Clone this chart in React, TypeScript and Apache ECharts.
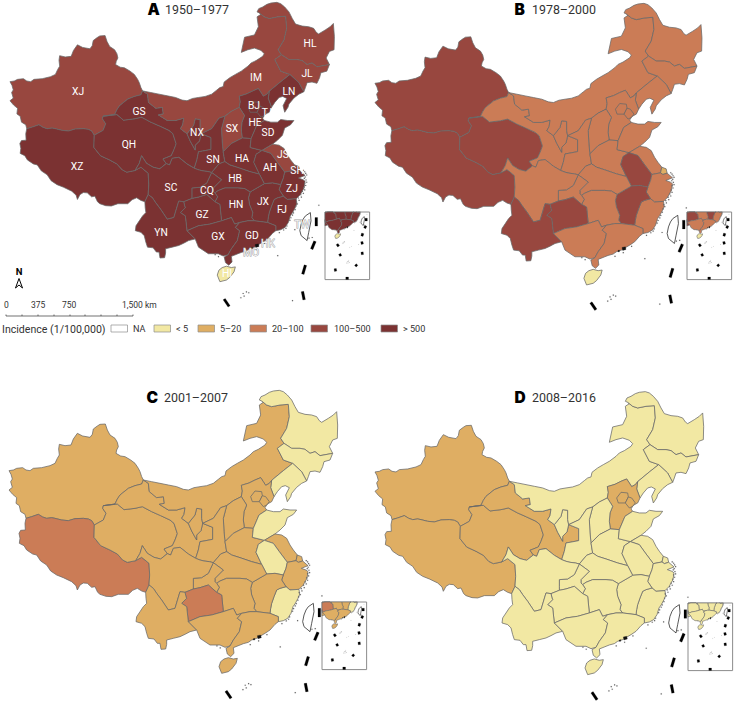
import React, { useEffect, useRef } from "react";
import * as echarts from "echarts";

const CLASS_LABELS = ["NA", "< 5", "5–20", "20–100", "100–500", "> 500"];
const CLASS_COLORS = ["#ffffff", "#F2E8A3", "#DFAE63", "#CB7C56", "#98473F", "#7B3232"];
const BORDER = "#686868";

const PROVINCES = ["XJ","XZ","QH","GS","NX","IM","HL","JL","LN","HE","BJ","TJ","SX","SN","HA","SD","JS","AH","SH","ZJ","FJ","JX","HB","HN","CQ","SC","GZ","YN","GX","GD","HI","TW","HK","MO"];
const PERIOD_A = [4,5,5,5,5,4,4,4,5,5,5,5,4,5,5,5,4,5,5,5,5,5,5,5,5,5,5,5,5,5,1,0,0,0];
const PERIOD_B = [4,4,4,3,3,3,3,3,3,3,3,3,3,3,3,3,3,4,2,3,3,4,3,3,3,3,4,4,3,3,1,0,0,0];
const PERIOD_C = [2,3,2,2,2,2,1,1,1,2,2,2,2,2,2,1,2,1,2,2,1,2,2,2,2,2,3,2,2,2,2,0,0,0];
const PERIOD_D = [2,2,2,2,1,1,1,1,1,2,2,2,1,1,1,1,1,1,1,1,1,1,1,1,1,1,1,1,1,1,1,0,0,0];

// Border arcs (units: 3x pixels of panel C)
const ARCS: Record<string, number[]> = {
  xjN: [78,490,75,478,62,470,58,452,48,445,50,428,38,418,27,405,37,397,32,380,37,372,33,358,27,347,40,345,50,340,68,338,78,345,90,347,100,340,125,338,150,332,165,325,172,310,178,300,176,282,178,268,195,272,213,270,220,252,232,235,248,243,270,247,277,238,280,222,292,213,300,208,316,207,322,225,330,240,345,250,352,262,355,275,350,285,348,295,362,303,375,305,392,315,405,325,415,340,420,350,425,365,430,375],
  xjxz: [78,490,95,485,115,478,128,486,140,490,155,488,165,490,185,495,205,497,225,491,250,490,265,492,275,497,283,510],
  xjqh: [283,510,310,495,318,475,308,460,310,452],
  xjgs: [310,452,345,447,352,432,360,420,385,400,405,392,425,387,430,375],
  qhgs: [310,452,352,447,372,464,405,460,427,455,455,470,482,482,510,495,522,505,532,536,525,555,517,572,492,582,502,596],
  qhxz: [283,510,282,547,302,572,330,585,352,597,368,615,382,622,407,617],
  qhsc: [407,617,420,595,427,572,442,595,462,607,482,612,502,596],
  xzout: [78,490,75,505,76,525,62,526,57,535,60,550,58,565,72,572,80,585,98,597,110,600,122,618,140,630,152,648,170,660,190,668,215,680,228,692,232,705,240,690,250,684,262,685,275,697,285,695,293,712,300,718,318,724,335,725,355,718,385,718,398,706,412,700,425,708,437,712],
  xzsc: [407,617,425,607,447,625,449,660,447,690],
  xzyn: [447,690,437,712],
  gssc: [502,596,512,600,520,580,540,577,565,597,587,610],
  gsim: [430,375,445,385,448,410,470,428,490,425,493,445,478,448,505,465,530,465,555,458,552,478,545,490,565,505],
  nxw: [565,505,575,528,590,555],
  nxim: [565,505,585,480,590,460,605,462,605,490,608,505],
  nxblk: [608,505,603,527,590,540,590,555],
  blkE: [608,505,638,517,638,553,612,558,600,560,595,585,587,610],
  imsn: [608,505,640,490,662,458,680,452],
  snsx: [680,452,670,490,672,530,675,560],
  snha: [675,560,680,590],
  snhb: [680,590,662,597,640,623],
  snsc: [587,610,600,615,612,618,628,620,640,623],
  imsx: [680,452,700,437,724,425],
  sxhe: [724,425,740,450,732,470,730,495,733,518],
  sxha: [733,518,700,535,675,560],
  imhe: [724,425,727,408,724,391,747,384,765,375,782,368,790,380,797,391,808,385,815,376],
  imln: [815,376,850,347,878,325],
  imjl: [878,325,850,315,832,280,852,265],
  imhl: [852,265,842,250,860,220,868,185,865,148,840,150,815,155,800,150,785,138],
  imout: [430,375,455,380,480,385,505,390,530,395,550,403,565,405,582,398,600,395,620,392,640,385,655,373,665,365,675,362,678,348,695,335,712,325,730,315,750,300,760,290,775,283,795,270,800,262,790,252,770,245,750,250,730,258,740,212,770,205,782,180,778,150,790,142,785,138],
  hlout: [785,138,778,135,783,125,795,120,808,112,820,108,838,106,850,110,862,120,875,135,885,155,895,172,915,178,935,180,950,185,958,197,965,202,985,190,1000,180,1010,170,1013,210,1012,250,998,255,988,275,998,295],
  hljl: [852,265,875,280,900,280,915,283,930,295,945,290,960,302,998,295],
  jlout: [998,295,990,315,972,320,968,335,960,352,945,348,930,350,925,365,920,378],
  jlln: [878,325,905,350,920,378],
  lncoast: [920,378,905,385,890,397,875,415,872,425,862,440,857,420,868,398,856,392,845,395,832,410,822,425],
  lnhe: [815,376,812,398,822,425],
  hecoast: [822,425,815,440,802,447,795,458,800,465],
  hesd: [760,520,777,480,800,465],
  heha: [733,518,760,520],
  sdcoast: [800,465,820,470,840,470,850,462,870,465,890,465,880,478,862,488,855,510,840,525,825,537],
  sdha: [760,520,757,547,793,556],
  sdjs: [793,556,825,537],
  haah: [793,556,775,568,768,592,785,628],
  hahb: [680,590,695,600,720,608,755,620,785,628],
  ahjs: [793,556,820,565,838,590,862,622],
  jscoast: [825,537,845,540,860,550,870,570,880,585,892,600],
  jssh: [888,617,892,600],
  jszj: [862,622,888,617],
  shcoast: [892,600,905,605,908,618],
  shzj: [888,617,895,622,908,618],
  ahzj: [862,622,858,640,850,660],
  ahjx: [800,657,825,655,850,660],
  ahhb: [785,628,800,657],
  zjcoast: [908,618,924,632,904,640,918,645,924,650,921,670,914,682,910,690,897,703],
  jxzj: [850,660,845,675,858,695],
  zjfj: [858,695,870,705,897,703],
  fjcoast: [897,703,899,718,894,730,886,745,879,755,873,775,863,790,850,797,835,800],
  jxfj: [858,695,840,700,830,705,822,725,815,745,812,760,810,775],
  fjgd: [810,775,835,785,835,800],
  hbjx: [757,682,800,657],
  hnjx: [757,682,752,700,755,720,765,745,762,760,770,770],
  jxgd: [770,770,810,775],
  hbhn: [650,685,660,678,680,670,720,670,740,672,757,682],
  hbcq: [640,623,670,645,645,670,645,680,650,685],
  cqhn: [650,685,658,697,650,712],
  cqgz: [580,702,600,698,625,690,650,712],
  cqsc: [640,623,625,655,605,668,580,670,580,690,580,702],
  hngz: [650,712,665,720,670,770],
  hngx: [670,770,700,760,710,780,725,775],
  hngd: [725,775,750,770,770,770],
  gdcoast: [835,800,825,808,810,825,795,835,783,842,770,850,755,855,745,862,730,866,720,870,700,878,702,895,692,905,682,897,678,880,690,873],
  gdgx: [725,775,712,790,725,800,718,830,700,855,690,873],
  gxout: [590,825,600,850,630,870,660,870,675,877,690,873],
  gxyn: [565,800,590,825],
  gxgz: [670,770,635,780,600,785,565,800],
  gzyn: [555,712,558,725,560,730,545,745,560,755,565,800],
  gzsc: [555,712,580,702],
  scyn: [447,690,460,700,470,715,485,735,505,765,525,760,540,710,555,712],
  ynout: [437,712,438,730,440,745,430,755,420,770,410,785,408,800,425,805,435,815,440,835,445,850,462,852,472,865,480,865,483,883,497,882,500,868,500,855,520,850,540,845,555,838,570,830,590,825],
};

const RINGS: Record<string, string[]> = {
  XJ: ["xjN","-xjgs","-xjqh","-xjxz"],
  XZ: ["xjxz","qhxz","xzsc","xzyn","-xzout"],
  QH: ["qhgs","-qhsc","-qhxz","xjqh"],
  GS: ["gsim","nxw","-nxblk","blkE","-gssc","-qhgs","xjgs"],
  NX: ["nxim","nxblk","-nxw"],
  IM: ["imout","-imhl","-imjl","-imln","-imhe","-imsx","-imsn","-nxim","-gsim"],
  HL: ["hlout","-hljl","imhl"],
  JL: ["hljl","jlout","-jlln","imjl"],
  LN: ["jlln","lncoast","-lnhe","imln"],
  HE: ["imhe","lnhe","hecoast","-hesd","-heha","-sxhe"],
  SX: ["imsx","sxhe","sxha","-snsx"],
  SN: ["blkE","snsc","-snhb","-snha","-snsx","-imsn"],
  HA: ["-sxha","heha","sdha","haah","-hahb","-snha"],
  SD: ["sdcoast","-sdjs","-sdha","hesd"],
  JS: ["sdjs","jscoast","-jssh","-jszj","-ahjs"],
  AH: ["ahjs","ahzj","-ahjx","-ahhb","-haah"],
  SH: ["jssh","shcoast","-shzj"],
  ZJ: ["jszj","shzj","zjcoast","-zjfj","-jxzj","-ahzj"],
  FJ: ["zjfj","fjcoast","-fjgd","-jxfj"],
  JX: ["hbjx","ahjx","jxzj","jxfj","-jxgd","-hnjx"],
  HB: ["hahb","ahhb","-hbjx","-hbhn","-hbcq","-snhb"],
  HN: ["hbhn","hnjx","-hngd","-hngx","-hngz","-cqhn"],
  CQ: ["hbcq","cqhn","-cqgz","-cqsc"],
  SC: ["qhsc","gssc","snsc","cqsc","-gzsc","-scyn","-xzsc"],
  GZ: ["cqgz","hngz","gxgz","-gzyn","gzsc"],
  YN: ["scyn","gzyn","gxyn","-ynout","-xzyn"],
  GX: ["hngx","gdgx","-gxout","-gxyn","-gxgz"],
  GD: ["fjgd","gdcoast","-gdgx","hngd","jxgd"],
};

const SIMPLE_RINGS: Record<string, number[]> = {
  BJ: [757,440,752,425,765,408,785,410,787,422,778,440],
  TJ: [787,422,797,425,808,440,800,450,790,455,778,440],
  HI: [657,935,662,920,672,912,685,908,700,912,712,910,708,925,695,942,685,950,665,955],
  TW: [908,800,912,780,918,765,925,755,940,745,942,770,935,805,930,830,912,815],
  HK: [772,842,782,840,784,848,774,851],
  MO: [760,851,764,850,764,855,760,855],
};

const DASHES_MAIN = [[958,760,958,786],[954,832,944,856],[925,905,917,932],[916,985,921,1010],[678,1008,693,1030]];
const DASHES_FAR = [[918,1085,922,1110],[870,1205,854,1222],[788,1337,762,1337],[660,1245,664,1270],[702,1103,714,1123]];
const ISLES_MAIN = [918,616,922,620,925,625,928,630,924,636,921,640,926,645,928,652,922,655,925,662,919,668,922,675,915,680,918,686,910,690,912,697,903,700,905,707,897,712,900,718,895,725,893,735,888,745,885,752,880,760,877,768,868,785,865,792,858,797,845,805,800,838,775,857,750,868,735,990,745,985,752,988,728,1003,738,998,885,1012,965,722,892,796,840,875,945,820,935,822,650,872,660,878];
const ISLES_FAR = [775,1175,790,1165,782,1190,770,1190,795,1185,786,1178,800,1040,815,1030];

const LABEL_PAGE_POS: Record<string, [number, number]> = {
  XJ:[78,91],XZ:[77,166],GS:[139,111],QH:[129,144],IM:[256,77],HL:[310,43],JL:[307,73],LN:[289,91],BJ:[254,105],TJ:[267,112],HE:[255,122],SD:[268,132],SX:[232,128],NX:[197,132],SN:[213,159],HA:[242,158],JS:[283,154],AH:[270,167],SH:[297,170],HB:[235,178],CQ:[207,190],ZJ:[292,188],JX:[263,201],HN:[236,204],FJ:[282,209],GZ:[202,214],SC:[171,187],YN:[161,232],GX:[218,236],GD:[252,235],HK:[268,243],MO:[251,252],HI:[227,273],TW:[302,224],
};
const GREY_LABELS = ["HK", "MO", "TW"];

const PANELS = [
  { letter: "A", title: "1950–1977", classes: PERIOD_A, ox: 1.1, oy: -32.5, s: 0.987, insetX: 325, insetY: 212, letterX: 147.5, titleX: 165, titleY: 9 },
  { letter: "B", title: "1978–2000", classes: PERIOD_B, ox: 366, oy: -31.8, s: 0.995, insetX: 687, insetY: 212, letterX: 514.5, titleX: 532, titleY: 9 },
  { letter: "C", title: "2001–2007", classes: PERIOD_C, ox: 0, oy: 355, s: 1, insetX: 322, insetY: 602, letterX: 146.5, titleX: 164, titleY: 397 },
  { letter: "D", title: "2008–2016", classes: PERIOD_D, ox: 366, oy: 356.3, s: 1, insetX: 688, insetY: 603, letterX: 514.5, titleX: 532, titleY: 397 },
];

const INSET_WINDOW = [562, 700, 991, 1350];
const INSET_SCALE = 0.104;

type Pt = [number, number];
const toPts = (f: number[]): Pt[] => {
  const out: Pt[] = [];
  for (let i = 0; i < f.length; i += 2) out.push([f[i], f[i + 1]]);
  return out;
};
const assemble = (ids: string[]): Pt[] => {
  const out: Pt[] = [];
  ids.forEach((id) => {
    const rev = id[0] === "-";
    const pts = toPts(ARCS[rev ? id.slice(1) : id]);
    if (rev) pts.reverse();
    out.push(...(out.length ? pts.slice(1) : pts));
  });
  return out;
};
const dashQuad = (d: number[], w: number): Pt[] => {
  const [x1, y1, x2, y2] = d;
  const l = Math.hypot(x2 - x1, y2 - y1);
  const nx = (-(y2 - y1) / l) * w * 0.5, ny = ((x2 - x1) / l) * w * 0.5;
  return [[x1 + nx, y1 + ny], [x2 + nx, y2 + ny], [x2 - nx, y2 - ny], [x1 - nx, y1 - ny]];
};
const speck = (x: number, y: number): Pt[] => [[x - 1, y - 1], [x + 2.5, y - 1], [x + 2.5, y + 2.5], [x - 1, y + 2.5]];

const clipRing = (ring: Pt[], w: number[]): Pt[] => {
  const edges: [(p: Pt) => boolean, (a: Pt, b: Pt) => Pt][] = [
    [(p) => p[0] >= w[0], (a, b) => { const t = (w[0] - a[0]) / (b[0] - a[0]); return [w[0], a[1] + t * (b[1] - a[1])]; }],
    [(p) => p[0] <= w[2], (a, b) => { const t = (w[2] - a[0]) / (b[0] - a[0]); return [w[2], a[1] + t * (b[1] - a[1])]; }],
    [(p) => p[1] >= w[1], (a, b) => { const t = (w[1] - a[1]) / (b[1] - a[1]); return [a[0] + t * (b[0] - a[0]), w[1]]; }],
    [(p) => p[1] <= w[3], (a, b) => { const t = (w[3] - a[1]) / (b[1] - a[1]); return [a[0] + t * (b[0] - a[0]), w[3]]; }],
  ];
  let cur = ring;
  edges.forEach(([inside, cross]) => {
    const next: Pt[] = [];
    cur.forEach((p, i) => {
      const q = cur[(i + 1) % cur.length];
      const pi = inside(p), qi = inside(q);
      if (pi) next.push(p);
      if (pi !== qi) next.push(cross(p, q));
    });
    cur = next;
  });
  return cur;
};

const provinceRing = (name: string): Pt[] =>
  RINGS[name] ? assemble(RINGS[name]) : toPts(SIMPLE_RINGS[name]);

const feature = (name: string, rings: Pt[][], cp?: Pt) => ({
  type: "Feature",
  properties: { name, ...(cp ? { cp: [cp[0], -cp[1]] } : {}) },
  geometry: {
    type: "MultiPolygon",
    coordinates: rings.map((r) => [[...r, r[0]].map((p) => [p[0], -p[1]])]),
  },
});

const isleRings = (f: number[]) => toPts(f).map(([x, y]) => speck(x, y));

const mainFeatures = (labels: boolean) => {
  const a = PANELS[0];
  return [
    ...PROVINCES.map((n) => {
      const pos = LABEL_PAGE_POS[n];
      const cp: Pt | undefined = labels && pos ? [((pos[0] - a.ox) * 3) / a.s, ((pos[1] - a.oy) * 3) / a.s] : undefined;
      return feature(n, [provinceRing(n)], cp);
    }),
    feature("Dashes", DASHES_MAIN.map((d) => dashQuad(d, 8))),
    feature("Isles", isleRings(ISLES_MAIN)),
  ];
};

const insetFeatures = () => {
  const [x0, y0, x1, y1] = INSET_WINDOW;
  const clipAll = (rs: Pt[][]) => rs.map((r) => clipRing(r, INSET_WINDOW)).filter((r) => r.length >= 3);
  const out: any[] = [feature("Frame", [[[x0, y0], [x1, y0], [x1, y1], [x0, y1]]])];
  PROVINCES.forEach((n) => {
    const rings = clipAll([provinceRing(n)]);
    if (rings.length) out.push(feature(n, rings));
  });
  out.push(feature("Dashes", clipAll([...DASHES_MAIN, ...DASHES_FAR].map((d) => dashQuad(d, 22)))));
  out.push(feature("Isles", clipAll(isleRings([...ISLES_MAIN, ...ISLES_FAR]))));
  return out;
};

const bboxOf = (features: any[]) => {
  let a = Infinity, b = Infinity, c = -Infinity, d = -Infinity;
  features.forEach((f) =>
    f.geometry.coordinates.forEach((poly: number[][][]) =>
      poly[0].forEach(([x, y]) => {
        a = Math.min(a, x); c = Math.max(c, x);
        b = Math.min(b, -y); d = Math.max(d, -y);
      })
    )
  );
  return { minX: a, minY: b, maxX: c, maxY: d };
};

const FONT = "Roboto, sans-serif";

const regionData = (classes: number[], labels: boolean, inset: boolean) => [
  ...PROVINCES.map((n, i) => {
    const special = n === "HK" || n === "MO";
    const grey = GREY_LABELS.includes(n);
    return {
      name: n,
      value: classes[i],
      itemStyle: {
        areaColor: special ? "#111111" : CLASS_COLORS[classes[i]],
        borderColor: n === "TW" ? "#222222" : special ? "#111111" : BORDER,
        borderWidth: special ? 0.3 : inset ? 0.6 : 0.75,
      },
      label: labels
        ? {
            show: true,
            formatter: "{b}",
            color: grey ? "#f2f2f2" : "#ffffff",
            fontSize: 10.3,
            fontFamily: FONT,
            ...(grey ? { textBorderColor: "#9a9a9a", textBorderWidth: 0.8 } : {}),
          }
        : { show: false },
    };
  }),
  { name: "Dashes", value: 0, itemStyle: { areaColor: "#000000", borderColor: "#000000", borderWidth: 0.2 }, label: { show: false } },
  { name: "Isles", value: 0, itemStyle: { areaColor: "#6f6f6f", borderColor: "#6f6f6f", borderWidth: 0.1 }, label: { show: false } },
  { name: "Frame", value: 0, itemStyle: { areaColor: "#ffffff", borderColor: "#8c8c8c", borderWidth: 1 }, label: { show: false } },
];

const graphics = () => {
  const els: any[] = [];
  const text = (x: number, y: number, t: string, font: string, fill: string, align = "left") =>
    els.push({ type: "text", silent: true, x, y, style: { text: t, font, fill, textAlign: align, textVerticalAlign: "middle" } });
  PANELS.forEach((p) => {
    text(p.letterX, p.titleY, p.letter, `900 15.5px Inter, ${FONT}`, "#000000");
    text(p.titleX, p.titleY, p.title, `400 12.4px ${FONT}`, "#333333");
  });
  // legend
  text(2, 329, "Incidence (1/100,000)", `400 10.6px ${FONT}`, "#333333");
  const swatchX = [111, 154, 198, 250, 311, 381];
  const labelX = [133, 176, 220, 272, 334, 403];
  CLASS_LABELS.forEach((l, i) => {
    els.push({ type: "rect", silent: true, shape: { x: swatchX[i], y: 325, width: 16.5, height: 7 }, style: { fill: CLASS_COLORS[i], stroke: "#8c8c8c", lineWidth: 0.7 } });
    text(labelX[i], 329, l, `400 9.1px ${FONT}`, "#333333");
  });
  // scale bar
  els.push({ type: "line", silent: true, shape: { x1: 6, y1: 316, x2: 133, y2: 316 }, style: { stroke: "#333333", lineWidth: 0.7 } });
  [6, 22, 38, 54, 70, 85, 101, 117, 133].forEach((x) =>
    els.push({ type: "line", silent: true, shape: { x1: x, y1: 314.5, x2: x, y2: 316 }, style: { stroke: "#333333", lineWidth: 0.7 } })
  );
  text(4, 305, "0", `400 8.5px ${FONT}`, "#333333");
  text(31, 305, "375", `400 8.5px ${FONT}`, "#333333");
  text(62, 305, "750", `400 8.5px ${FONT}`, "#333333");
  text(122, 305, "1,500 km", `400 8.5px ${FONT}`, "#333333");
  // north arrow
  text(19, 271, "N", `700 9.5px ${FONT}`, "#000000", "center");
  els.push({ type: "polygon", silent: true, shape: { points: [[15.5, 288], [19, 278.5], [22.5, 288], [19, 285]] }, style: { fill: "#ffffff", stroke: "#000000", lineWidth: 1 } });
  return els;
};

export default function App() {
  const ref = useRef<HTMLDivElement>(null);
  useEffect(() => {
    const chart = echarts.init(ref.current!, null, { renderer: "svg" });
    const series: any[] = [];
    PANELS.forEach((p, idx) => {
      const labels = idx === 0;
      const mainF = mainFeatures(labels);
      const insF = insetFeatures();
      const mainName = "cn" + p.letter;
      const insetName = "inset" + p.letter;
      echarts.registerMap(mainName, { type: "FeatureCollection", features: mainF } as any);
      echarts.registerMap(insetName, { type: "FeatureCollection", features: insF } as any);
      const b = bboxOf(mainF);
      const k = p.s / 3;
      const common = { type: "map", roam: false, aspectScale: 1, silent: true, selectedMode: false, emphasis: { disabled: true }, select: { disabled: true }, animation: false };
      series.push({
        ...common,
        map: mainName,
        left: p.ox + k * b.minX,
        top: p.oy + k * b.minY,
        width: k * (b.maxX - b.minX),
        height: k * (b.maxY - b.minY),
        data: regionData(p.classes, labels, false),
      });
      const [x0, y0, x1, y1] = INSET_WINDOW;
      series.push({
        ...common,
        map: insetName,
        left: p.insetX,
        top: p.insetY,
        width: (x1 - x0) * INSET_SCALE,
        height: (y1 - y0) * INSET_SCALE,
        data: regionData(p.classes, false, true),
      });
    });
    chart.setOption({ animation: false, backgroundColor: "#ffffff", series, graphic: { elements: graphics() } });
    return () => chart.dispose();
  }, []);
  return <div ref={ref} style={{ position: "absolute", left: 0, top: 0, width: 736, height: 701 }} />;
}
